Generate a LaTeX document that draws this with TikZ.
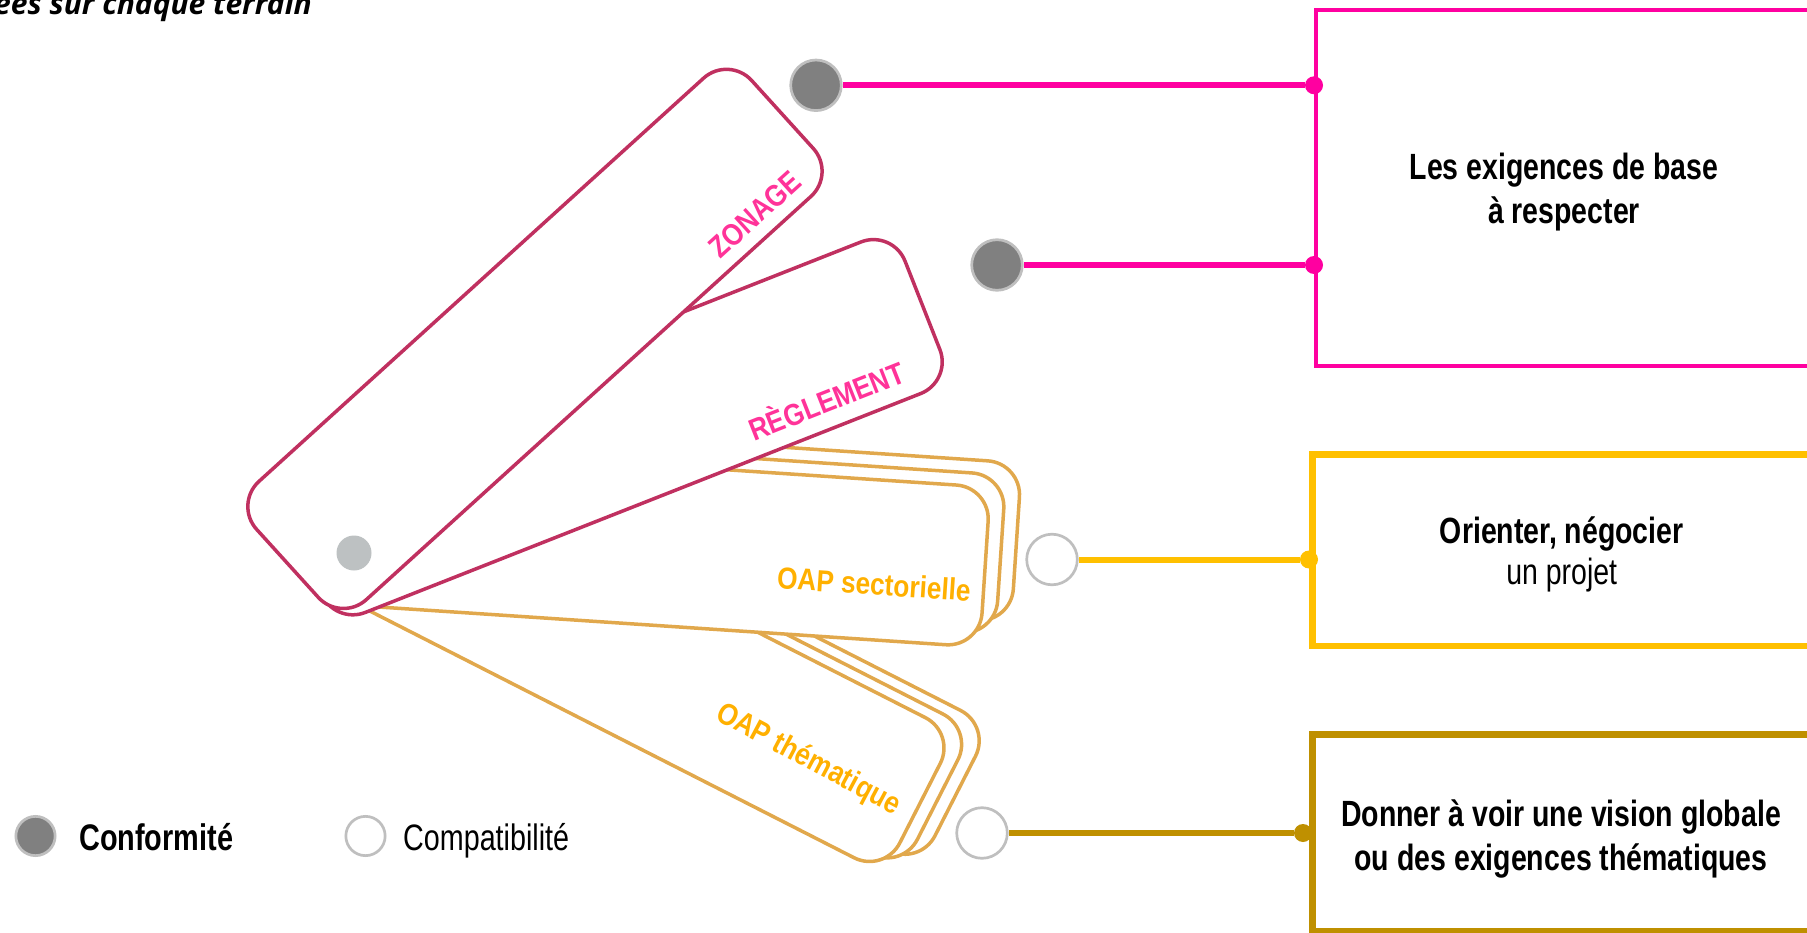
\documentclass[tikz,border=0pt]{standalone}
\usepackage{fontspec}
\setmainfont{Liberation Sans}[FakeStretch=0.78]
\newfontfamily\labelfont{Liberation Sans}[FakeStretch=0.86]
\newfontfamily\headfont{Open Sans}

\definecolor{cardpink}{RGB}{192,48,96}
\definecolor{cardorange}{RGB}{225,168,76}
\definecolor{labelpink}{RGB}{255,51,153}
\definecolor{labelorange}{RGB}{255,176,0}
\definecolor{boxpink}{RGB}{255,0,160}
\definecolor{boxyellow}{RGB}{255,192,0}
\definecolor{boxgold}{RGB}{191,144,0}
\definecolor{confgray}{RGB}{128,128,128}
\definecolor{ringgray}{RGB}{191,191,191}
\definecolor{rivet}{RGB}{189,193,194}

\tikzset{
  card/.style={line width=3.5pt, fill=white, rounded corners=34pt},
  pinkcard/.style={card, draw=cardpink},
  oapcard/.style={card, draw=cardorange},
  conf/.style={circle, fill=confgray, draw=ringgray, line width=2.7pt,
               minimum size=50.6pt, inner sep=0pt},
  compat/.style={circle, fill=white, draw=ringgray, line width=2.7pt,
                 minimum size=50.6pt, inner sep=0pt},
  joint/.style={circle, inner sep=0pt, minimum size=18pt},
  link/.style={line width=6pt},
  goalbox/.style={draw, fill=white, inner sep=0pt},
  goaltext/.style={anchor=base, inner sep=0pt, font=\bfseries\fontsize{36.5}{44}\selectfont},
  cardlabel/.style={inner sep=0pt, font=\labelfont\bfseries\fontsize{30.5}{36}\selectfont},
  legendtext/.style={anchor=base west, inner sep=0pt, font=\fontsize{36.8}{42}\selectfont},
}

\begin{document}
\begin{tikzpicture}[x=1pt, y=-1pt]
\useasboundingbox (0,0) rectangle (1807,933);
\clip (0,0) rectangle (1807,933);

% heading, cut by the upper edge
\node[anchor=base east, inner sep=0pt,
      font=\headfont\bfseries\itshape\fontsize{30}{36}\selectfont] (heading) at (312,15) {ées sur chaque terrain};

% goal boxes on the right
\node[goalbox, draw=boxpink, line width=4pt, minimum width=496pt, minimum height=356pt]
  (gbase) at (1564,188) {};
\node[goalbox, draw=boxyellow, line width=6.7pt, minimum width=498pt, minimum height=191.3pt]
  (gorient) at (1561.7,550.2) {};
\node[goalbox, draw=boxgold, line width=6.7pt, minimum width=498pt, minimum height=196.5pt]
  (gvision) at (1561.7,832.7) {};

\node[goaltext] (tbase1) at (1564,180) {Les exigences de base};
\node[goaltext] (tbase2) at (1564,224) {à respecter};
\node[goaltext] (torient1) at (1561.7,543) {Orienter, négocier};
\node[goaltext, font=\fontsize{36.5}{44}\selectfont] (torient2) at (1561.7,584) {un projet};
\node[goaltext] (tvision1) at (1561,826) {Donner à voir une vision globale};
\node[goaltext] (tvision2) at (1561,870) {ou des exigences thématiques};

% OAP thématique stack
\foreach \dx/\dy in {35.2/-7.2, 17.6/-3.6, 0/0}
  \draw[oapcard, shift={(\dx,\dy)}]
    (290.1,570.4) -- (361.4,430.3) -- (955.7,733.1) -- (884.4,873.2) -- cycle;

% OAP sectorielle stack
\foreach \dx/\dy in {31.3/-24.2, 15.6/-12.1, 0/0}
  \draw[oapcard, shift={(\dx,\dy)}]
    (314.2,602.7) -- (324.8,443.0) -- (990.4,487.3) -- (979.8,647.0) -- cycle;

% règlement card
\draw[pinkcard] (333.7,624.9) -- (274.0,473.3) -- (892.6,229.5) -- (952.3,381.1) -- cycle;

% zonage card
\draw[pinkcard] (341.1,622.5) -- (233.8,504.2) -- (728.8,55.3) -- (836.1,173.6) -- cycle;

% rivet of the fan
\node[circle, fill=rivet, minimum size=35pt, inner sep=0pt] (rivet) at (354,553) {};

% card labels
\node[cardlabel, text=labelpink, rotate=42.2] (lzonage) at (755,214.5) {ZONAGE};
\node[cardlabel, text=labelpink, rotate=21.5] (lreglement) at (826,399) {RÈGLEMENT};
\node[cardlabel, text=labelorange, rotate=-3.8] (lsect) at (874,584) {OAP sectorielle};
\node[cardlabel, text=labelorange, rotate=-28] (ltheme) at (808,760) {OAP thématique};

% markers and joints
\node[conf] (czonage) at (816,85.3) {};
\node[conf] (creglement) at (997,265) {};
\node[compat] (csect) at (1052,559.5) {};
\node[compat] (ctheme) at (982,833) {};

\node[joint, fill=boxpink] (jzonage) at (1314,85.3) {};
\node[joint, fill=boxpink] (jreglement) at (1314,265) {};
\node[joint, fill=boxyellow] (jsect) at (1309,559.5) {};
\node[joint, fill=boxgold] (jtheme) at (1303,833) {};

\draw[link, boxpink] (czonage) -- (jzonage);
\draw[link, boxpink] (creglement) -- (jreglement);
\draw[link, boxyellow] (csect) -- (jsect);
\draw[link, boxgold] (ctheme) -- (jtheme);

% legend
\node[conf, minimum size=39.3pt] (lconf) at (35.5,836) {};
\node[legendtext, font=\bfseries\fontsize{37}{42}\selectfont] (tconf) at (79,850.5) {Conformité};
\node[compat, minimum size=39.3pt] (lcompat) at (365.5,836) {};
\node[legendtext] (tcompat) at (403,850.5) {Compatibilité};
\end{tikzpicture}
\end{document}
